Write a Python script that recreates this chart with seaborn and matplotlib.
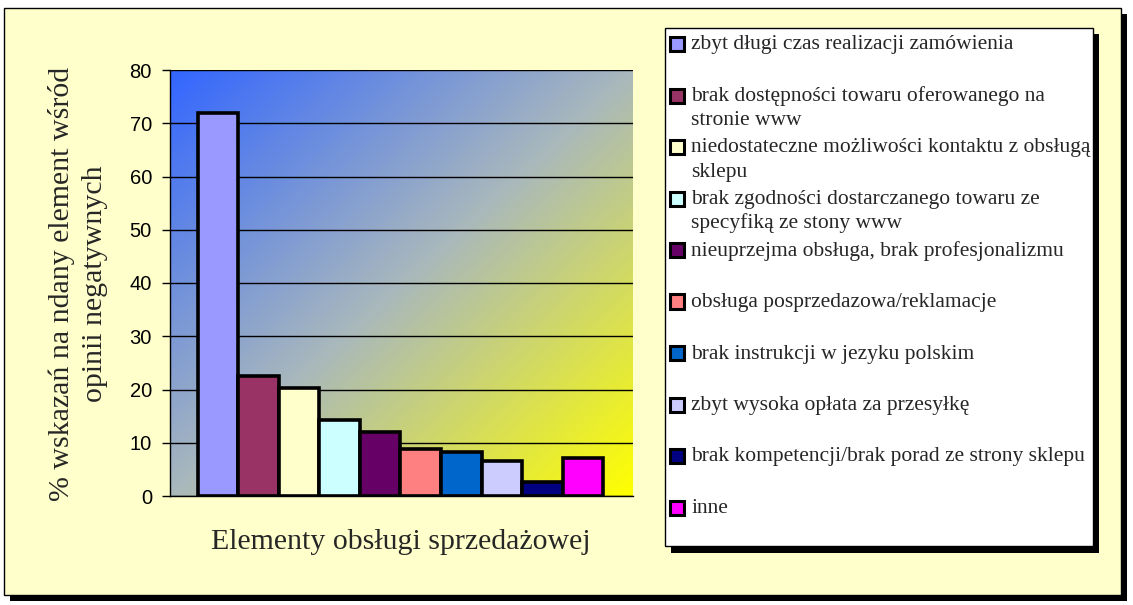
import numpy as np
import pandas as pd
import matplotlib as mpl
mpl.use('Agg')
import matplotlib.pyplot as plt
from matplotlib.patches import Rectangle
from matplotlib.colors import LinearSegmentedColormap
import seaborn as sns

# data
elements = [
    'zbyt długi czas realizacji zamówienia',
    'brak dostępności towaru oferowanego na\nstronie www',
    'niedostateczne możliwości kontaktu z obsługą\nsklepu',
    'brak zgodności dostarczanego towaru ze\nspecyfiką ze stony www',
    'nieuprzejma obsługa, brak profesjonalizmu',
    'obsługa posprzedazowa/reklamacje',
    'brak instrukcji w jezyku polskim',
    'zbyt wysoka opłata za przesyłkę',
    'brak kompetencji/brak porad ze strony sklepu',
    'inne',
]
shares = [72.0, 22.6, 20.2, 14.3, 12.1, 8.8, 8.3, 6.6, 2.7, 7.1]
bar_colors = ['#9999FF', '#993366', '#FFFFCC', '#CCFFFF', '#660066',
              '#FF8080', '#0066CC', '#CCCCFF', '#000080', '#FF00FF']
y_ticks = [0, 10, 20, 30, 40, 50, 60, 70, 80]

W, H = 1133, 605


def fx(x):
    return x / W


def fy(y):
    return 1 - y / H


def box(fig, x0, y0, x1, y1, **kw):
    fig.patches.append(Rectangle((fx(x0), fy(y1)), fx(x1) - fx(x0), fy(y0) - fy(y1),
                                 transform=fig.transFigure, **kw))


def main():
    sns.set_style('white')
    plt.rcParams['font.family'] = ['Liberation Sans', 'DejaVu Sans']

    fig = plt.figure(figsize=(W / 100, H / 100), dpi=100, facecolor='white')

    # outer frame with shadow
    box(fig, 10, 14, 1127, 601, facecolor='black', edgecolor='none', zorder=-3)
    box(fig, 4, 8, 1121, 595, facecolor='#FFFFCC', edgecolor='black', linewidth=1, zorder=-2)

    ax = fig.add_axes([fx(170), fy(496), fx(633) - fx(170), fy(70) - fy(496)])

    # diagonal blue -> yellow fill of the plot area
    cmap = LinearSegmentedColormap.from_list('bg', ['#3366FF', '#A9B8BC', '#FFFF00'])
    gx, gy = np.meshgrid(np.linspace(0, 1, 200), np.linspace(0, 1, 200))
    grad = (gx + gy) / 2
    ax.imshow(grad, cmap=cmap, extent=[0, 1, 0, 1], transform=ax.transAxes,
              aspect='auto', origin='upper', zorder=0, interpolation='bilinear')

    df = pd.DataFrame({'element': elements, 'share': shares})
    sns.barplot(data=df, x='element', y='share', hue='element', order=elements,
                hue_order=elements, palette=bar_colors, saturation=1, width=1,
                edgecolor='black', linewidth=2.6, legend=False, ax=ax, zorder=2)

    ax.set_xlim(-1.19, 10.24)
    ax.set_ylim(0, 80)
    ax.set_yticks(y_ticks)
    ax.set_xticks([])
    ax.set_xlabel('')
    ax.set_ylabel('')
    ax.yaxis.grid(True, color='black', linewidth=1)
    ax.set_axisbelow(True)
    ax.tick_params(axis='y', left=True, length=6, width=1, color='black',
                   labelsize=14.5, pad=7, labelcolor='black')
    for side in ['top', 'right']:
        ax.spines[side].set_visible(False)
    for side in ['left', 'bottom']:
        ax.spines[side].set_color('black')
        ax.spines[side].set_linewidth(1)
    ax.patch.set_alpha(0)

    serif = ['Liberation Serif', 'DejaVu Serif']
    fig.text(fx(78), fy(284), '% wskazań na ndany element wśród\nopinii negatywnych',
             rotation=90, ha='center', va='center', fontsize=21.5, family=serif,
             linespacing=1.3)
    fig.text(fx(401), fy(542), 'Elementy obsługi sprzedażowej', ha='center', va='center',
             fontsize=21.5, family=serif)

    # legend box with shadow
    box(fig, 671, 34, 1099, 553, facecolor='black', edgecolor='none', zorder=1)
    box(fig, 665, 28, 1093, 546, facecolor='white', edgecolor='black', linewidth=1, zorder=2)
    for i, (label, color) in enumerate(zip(elements, bar_colors)):
        yc = 44 + i * 51.5
        box(fig, 670, yc - 7, 684, yc + 7, facecolor=color, edgecolor='black',
            linewidth=2.2, zorder=3)
        for j, line in enumerate(label.split('\n')):
            fig.text(fx(691), fy(yc + 1 + j * 24), line, ha='left', va='center',
                     fontsize=15.5, family=serif, zorder=4)

    plt.savefig('out.png', dpi=100, facecolor='white')


if __name__ == '__main__':
    main()
